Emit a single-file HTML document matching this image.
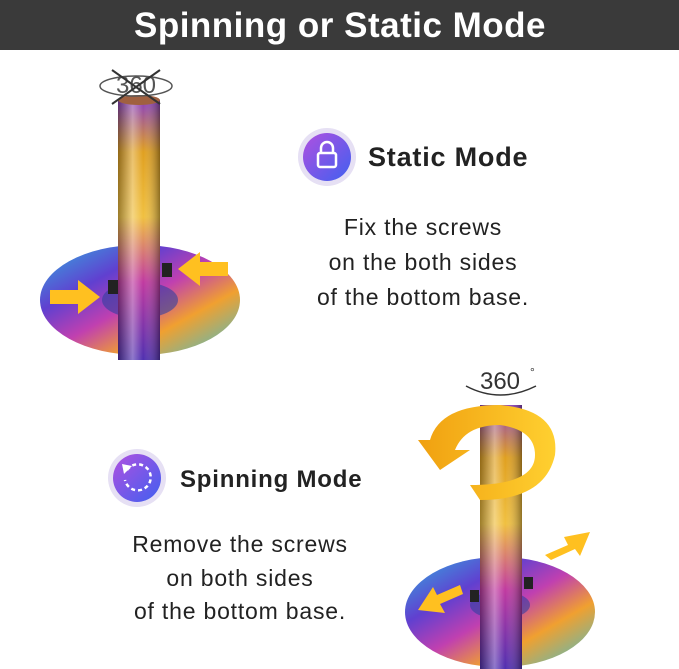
<!DOCTYPE html>
<html><head><meta charset="utf-8"><style>
html,body{margin:0;padding:0;background:#fff;}
svg{display:block;}
text{font-family:"Liberation Sans","DejaVu Sans",sans-serif;}
</style></head><body>
<svg width="679" height="669" viewBox="0 0 679 669" xmlns="http://www.w3.org/2000/svg">
<defs>
<linearGradient id="rod" x1="0" y1="0" x2="0" y2="1">
<stop offset="0" stop-color="#8a3fc0"/><stop offset="0.2" stop-color="#e0a020"/><stop offset="0.45" stop-color="#f0c040"/><stop offset="0.7" stop-color="#c03aa0"/><stop offset="1" stop-color="#5030b0"/>
</linearGradient>
<linearGradient id="rodh" x1="0" y1="0" x2="1" y2="0">
<stop offset="0" stop-color="#000" stop-opacity="0.35"/><stop offset="0.35" stop-color="#fff" stop-opacity="0.35"/><stop offset="0.6" stop-color="#fff" stop-opacity="0"/><stop offset="1" stop-color="#000" stop-opacity="0.4"/>
</linearGradient>
<linearGradient id="disc" x1="0" y1="0" x2="1" y2="1">
<stop offset="0" stop-color="#30b0e0"/><stop offset="0.3" stop-color="#6040d0"/><stop offset="0.5" stop-color="#c040b0"/><stop offset="0.7" stop-color="#f0a030"/><stop offset="1" stop-color="#40c0d0"/>
</linearGradient>
<linearGradient id="icon" x1="0" y1="0" x2="1" y2="1">
<stop offset="0" stop-color="#b050e0"/><stop offset="1" stop-color="#4060f0"/>
</linearGradient>
<linearGradient id="yel" x1="0" y1="0" x2="1" y2="0">
<stop offset="0" stop-color="#f0a010"/><stop offset="1" stop-color="#ffd030"/>
</linearGradient>
</defs>
<rect x="0" y="0" width="679" height="50" fill="#3a3a3a"/>
<text x="340" y="37" font-size="35" font-weight="bold" fill="#fff" text-anchor="middle" letter-spacing="0.5">Spinning or Static Mode</text>

<ellipse cx="140" cy="300" rx="100" ry="55" fill="url(#disc)"/>
<ellipse cx="140" cy="300" rx="38" ry="18" fill="#3040a0" opacity="0.6"/>
<rect x="118" y="100" width="42" height="260" fill="url(#rod)"/>
<rect x="118" y="100" width="42" height="260" fill="url(#rodh)"/>
<ellipse cx="139" cy="100" rx="21" ry="5" fill="#a06040"/>
<rect x="108" y="280" width="10" height="14" fill="#222"/>
<rect x="162" y="263" width="10" height="14" fill="#222"/>
<polygon points="50,290 78,290 78,280 100,297 78,314 78,304 50,304" fill="#ffc020"/>
<polygon points="228,262 200,262 200,252 178,269 200,286 200,276 228,276" fill="#ffc020"/>
<text x="136" y="93" font-size="24" fill="#555" text-anchor="middle">360</text>
<ellipse cx="136" cy="86" rx="36" ry="10" fill="none" stroke="#555" stroke-width="1.5"/>
<line x1="112" y1="70" x2="160" y2="104" stroke="#333" stroke-width="2"/>
<line x1="160" y1="70" x2="112" y2="104" stroke="#333" stroke-width="2"/>

<circle cx="327" cy="157" r="29" fill="#e6e0f4"/>
<circle cx="327" cy="157" r="24" fill="url(#icon)"/>
<rect x="318" y="153" width="18" height="14" rx="2" fill="none" stroke="#fff" stroke-width="2.5"/>
<path d="M321 153 v-5 a6 6 0 0 1 12 0 v5" fill="none" stroke="#fff" stroke-width="2.5"/>
<text x="368" y="166" font-size="27" font-weight="bold" fill="#222" letter-spacing="0.8">Static Mode</text>
<text x="423" y="235" font-size="23" fill="#222" text-anchor="middle" letter-spacing="0.8">Fix the screws</text>
<text x="423" y="270" font-size="23" fill="#222" text-anchor="middle" letter-spacing="0.8">on the both sides</text>
<text x="423" y="305" font-size="23" fill="#222" text-anchor="middle" letter-spacing="0.8">of the bottom base.</text>

<ellipse cx="500" cy="612" rx="95" ry="55" fill="url(#disc)"/>
<ellipse cx="500" cy="605" rx="30" ry="14" fill="#3040a0" opacity="0.6"/>
<rect x="480" y="405" width="42" height="264" fill="url(#rod)"/>
<rect x="480" y="405" width="42" height="264" fill="url(#rodh)"/>
<rect x="470" y="590" width="9" height="12" fill="#222"/>
<rect x="524" y="577" width="9" height="12" fill="#222"/>
<path d="M430 440 Q440 405 500 405 Q560 410 555 455 Q545 500 480 500 L470 485 Q535 485 535 455 Q535 430 500 425 Q465 425 455 450 L470 450 L440 470 L418 440 Z" fill="url(#yel)"/>
<polygon points="545,555 568,545 564,537 590,532 580,556 575,549 551,560" fill="#ffc020"/>
<polygon points="460,585 437,595 433,587 418,610 445,613 440,604 463,594" fill="#ffc020"/>
<text x="500" y="389" font-size="24" fill="#333" text-anchor="middle">360</text>
<text x="530" y="376" font-size="12" fill="#333">°</text>
<path d="M466 386 Q500 404 536 386" fill="none" stroke="#333" stroke-width="1.5"/>

<circle cx="137" cy="478" r="29" fill="#e6e0f4"/>
<circle cx="137" cy="478" r="24" fill="url(#icon)"/>
<path d="M127 470 a13 13 0 1 1 -2 10" fill="none" stroke="#fff" stroke-width="2.5" stroke-dasharray="4 3"/>
<polygon points="122,464 132,466 124,474" fill="#fff"/>
<text x="180" y="487" font-size="24" font-weight="bold" fill="#222" letter-spacing="0.8">Spinning Mode</text>
<text x="240" y="552" font-size="23" fill="#222" text-anchor="middle" letter-spacing="0.8">Remove the screws</text>
<text x="240" y="586" font-size="23" fill="#222" text-anchor="middle" letter-spacing="0.8">on both sides</text>
<text x="240" y="619" font-size="23" fill="#222" text-anchor="middle" letter-spacing="0.8">of the bottom base.</text>
</svg>
</body></html>
